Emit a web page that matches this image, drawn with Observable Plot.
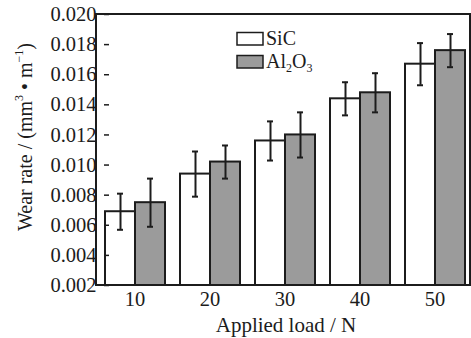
<!DOCTYPE html>
<html><head><meta charset="utf-8">
<script src="https://cdn.jsdelivr.net/npm/d3@7"></script>
<script src="https://cdn.jsdelivr.net/npm/@observablehq/plot@0.6"></script>
<style>body{margin:0;background:#fff} svg{display:block}</style>
</head><body><div id="chart"></div>
<script>
const loads = ["10", "20", "30", "40", "50"];
const series = ["SiC", "Al2O3"];
const sicMean = [0.0069, 0.0094, 0.0116, 0.0144, 0.0167];
const sicErr  = [0.0012, 0.0015, 0.0013, 0.0011, 0.0014];
const alMean  = [0.0075, 0.0102, 0.0120, 0.0148, 0.0176];
const alErr   = [0.0016, 0.0011, 0.0015, 0.0013, 0.0011];
const yTicks  = [0.002, 0.004, 0.006, 0.008, 0.010, 0.012, 0.014, 0.016, 0.018, 0.020];
const yBase = 0.002;

const data = [];
loads.forEach((l, i) => {
  data.push({load: l, series: "SiC", mean: sicMean[i], err: sicErr[i]});
  data.push({load: l, series: "Al2O3", mean: alMean[i], err: alErr[i]});
});

const ink = "#1c1c1c";
const font = "'Liberation Serif', 'Times New Roman', serif";

const svg = Plot.plot({
  width: 471, height: 338,
  marginLeft: 96, marginRight: 1, marginTop: 14, marginBottom: 53,
  style: {fontFamily: font, fontSize: "20px", background: "#fff", color: ink},
  fx: {domain: loads, paddingInner: 0.185, paddingOuter: 0.082, align: 0.65, axis: null, label: null},
  x: {domain: series, padding: 0, axis: null},
  y: {domain: [yBase, 0.020], axis: null},
  color: {domain: series, range: ["#ffffff", "#9b9b9b"]},
  marks: [
    Plot.barY(data, {fx: "load", x: "series", y1: () => yBase, y2: "mean", fill: "series", stroke: ink, strokeWidth: 2}),
    Plot.ruleX(data, {fx: "load", x: "series", y1: d => d.mean - d.err, y2: d => d.mean + d.err, stroke: ink, strokeWidth: 2}),
    Plot.tickY(data, {fx: "load", x: "series", y: d => d.mean + d.err, insetLeft: 12, insetRight: 12, stroke: ink, strokeWidth: 2}),
    Plot.tickY(data, {fx: "load", x: "series", y: d => d.mean - d.err, insetLeft: 12, insetRight: 12, stroke: ink, strokeWidth: 2}),
    Plot.axisY({ticks: yTicks, tickSize: -5, tickPadding: 13, tickFormat: d3.format(".3f"), fontSize: 20, strokeWidth: 1.5, label: null}),
    Plot.axisFx({anchor: "bottom", tickSize: 0, tickPadding: 6, fontSize: 20, label: null})
  ]
});

const s = d3.select(svg);
s.selectAll("text").style("font-size", "20.5px").style("font-family", font);
s.append("rect").attr("x", 96).attr("y", 14).attr("width", 374).attr("height", 271)
  .attr("fill", "none").attr("stroke", ink).attr("stroke-width", 2);

// y label
const yl = s.append("text").attr("transform", "translate(32,137) rotate(-90)")
  .attr("text-anchor", "middle").attr("font-family", font).attr("font-size", 20).attr("fill", ink);
yl.append("tspan").text("Wear rate / (mm");
yl.append("tspan").attr("font-size", 12).attr("dy", -9).text("3");
yl.append("tspan").attr("dy", 9).text(" • m");
yl.append("tspan").attr("font-size", 12).attr("dy", -9).text("−1");
yl.append("tspan").attr("dy", 9).text(")");

// x label
s.append("text").attr("x", 286).attr("y", 332).attr("text-anchor", "middle")
  .attr("font-family", font).attr("font-size", 21).attr("fill", ink).text("Applied load / N");

// legend
const lg = s.append("g").attr("font-family", font).attr("font-size", 20).attr("fill", ink)
  .attr("text-anchor", "start");
lg.append("rect").attr("x", 237).attr("y", 32.5).attr("width", 26).attr("height", 12.5)
  .attr("fill", "#ffffff").attr("stroke", ink).attr("stroke-width", 1.5);
lg.append("rect").attr("x", 237).attr("y", 55.5).attr("width", 26).attr("height", 12.5)
  .attr("fill", "#9b9b9b").attr("stroke", ink).attr("stroke-width", 1.5);
lg.append("text").attr("x", 266).attr("y", 45).text("SiC");
const al = lg.append("text").attr("x", 266).attr("y", 68);
al.append("tspan").text("Al");
al.append("tspan").attr("font-size", 12).attr("dy", 4).text("2");
al.append("tspan").attr("dy", -4).text("O");
al.append("tspan").attr("font-size", 12).attr("dy", 4).text("3");

document.getElementById("chart").appendChild(svg);
</script>
</body></html>
